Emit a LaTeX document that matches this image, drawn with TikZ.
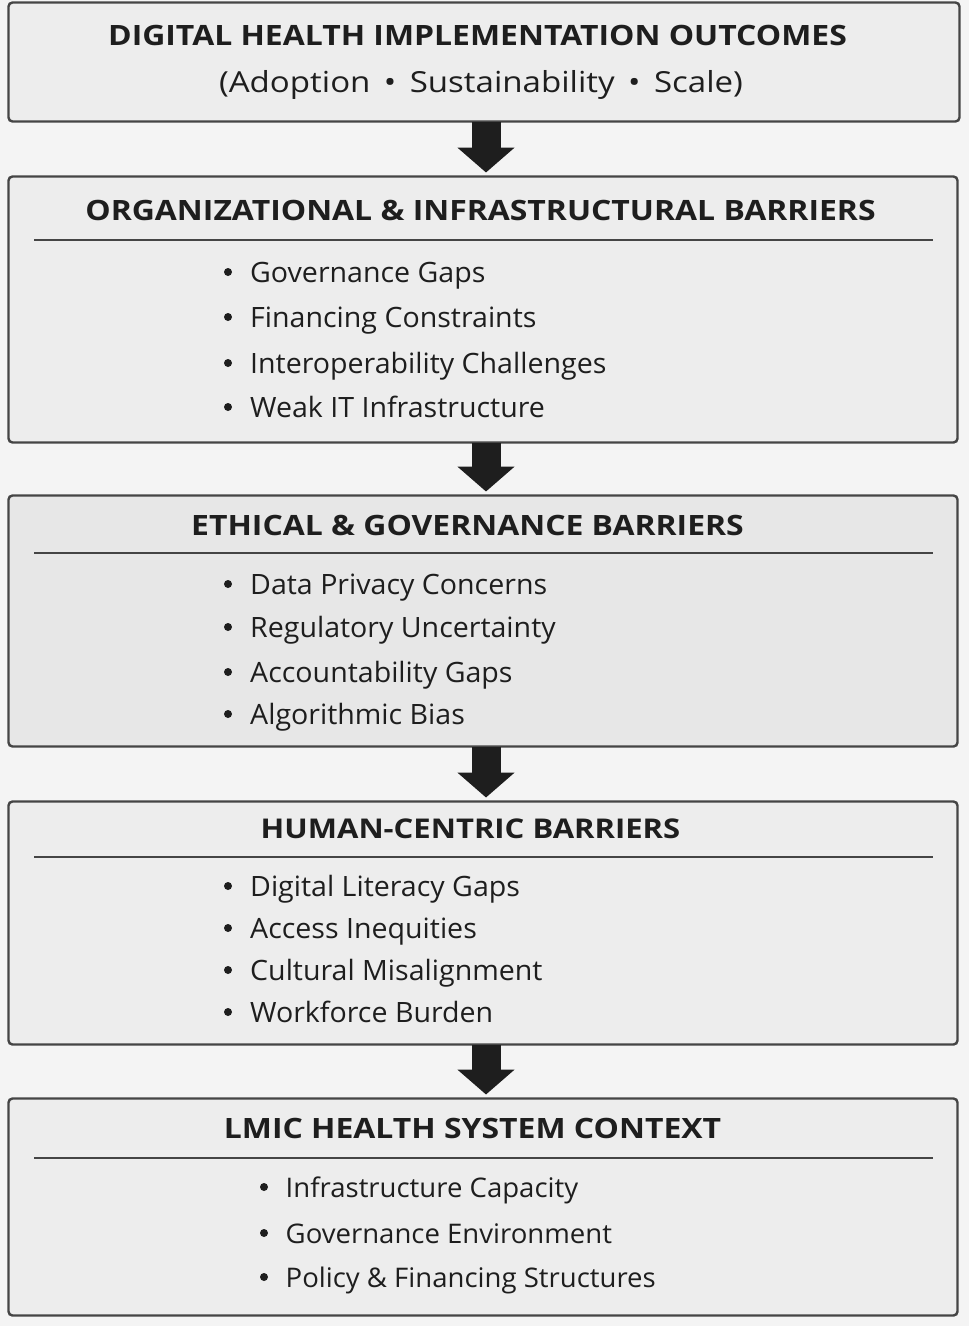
\documentclass[tikz,border=0pt]{standalone}
\usepackage{fontspec}
\setmainfont{Open Sans}
\newfontfamily\headfont{Open Sans}[FakeStretch=1.14]
\newfontfamily\entryfont{Open Sans}[FakeStretch=1.02]
\usetikzlibrary{arrows.meta}

\definecolor{pagebg}{HTML}{F4F4F4}
\definecolor{panelfill}{HTML}{EDEDED}
\definecolor{panelshade}{HTML}{E7E7E7}
\definecolor{panelline}{HTML}{454545}
\definecolor{ink}{HTML}{1E1E1E}

\tikzset{
  panel/.style={draw=panelline, line width=2.4pt, rounded corners=4pt, fill=panelfill, inner sep=0pt, outer sep=0pt},
  heading/.style={anchor=base, inner sep=0pt, text=ink, font=\headfont\fontsize{28}{32}\selectfont\bfseries},
  entry/.style={anchor=base west, inner sep=0pt, text=ink, font=\entryfont\fontsize{28}{32}\selectfont},
  dot/.style={circle, fill=ink, inner sep=0pt, minimum size=8pt},
  divider/.style={draw=panelline, line width=1.8pt},
  flow/.style={draw=ink, line width=29pt, -{Triangle[width=56pt,length=25pt]}}
}

\begin{document}
\begin{tikzpicture}[x=1pt,y=-1pt]
%page
\fill[pagebg] (0,0) rectangle (969,1326);
\useasboundingbox (0,0) rectangle (969,1326);

%panels
\node[panel, minimum width=951pt, minimum height=119pt] (outcomes) at (484,62) {};
\node[panel, minimum width=949pt, minimum height=266pt] (orgbar) at (483,309.5) {};
\node[panel, fill=panelshade, minimum width=949pt, minimum height=251pt] (ethbar) at (483,621) {};
\node[panel, minimum width=949pt, minimum height=243pt] (humbar) at (483,923) {};
\node[panel, minimum width=949pt, minimum height=217pt] (context) at (483,1207) {};

%arrows
\draw[flow] ([xshift=2pt]outcomes.south) -- ([xshift=3pt,yshift=4pt]orgbar.north);
\draw[flow] ([xshift=3pt]orgbar.south) -- ([xshift=3pt,yshift=4pt]ethbar.north);
\draw[flow] ([xshift=3pt]ethbar.south) -- ([xshift=3pt,yshift=4pt]humbar.north);
\draw[flow] ([xshift=3pt]humbar.south) -- ([xshift=3pt,yshift=4pt]context.north);

%headings
\node[heading] (outcomes-title) at (477.5,45) {DIGITAL HEALTH IMPLEMENTATION OUTCOMES};
\node[heading, font=\headfont\fontsize{29}{33}\selectfont] (outcomes-sub) at (481,92) {(Adoption \,\textbullet\, Sustainability \,\textbullet\, Scale)};
\node[heading] (orgbar-title) at (480.5,220) {ORGANIZATIONAL \& INFRASTRUCTURAL BARRIERS};
\node[heading] (ethbar-title) at (467.5,535) {ETHICAL \& GOVERNANCE BARRIERS};
\node[heading, font=\headfont\fontsize{27.2}{32}\selectfont\bfseries] (humbar-title) at (470.5,838) {HUMAN-CENTRIC BARRIERS};
\node[heading] (context-title) at (472.5,1138) {LMIC HEALTH SYSTEM CONTEXT};

%rules
\draw[divider] (34,240) -- (933,240);
\draw[divider] (34,553) -- (933,553);
\draw[divider] (34,857) -- (933,857);
\draw[divider] (34,1158) -- (933,1158);

%items
\foreach \y/\txt [count=\i] in {282/Governance Gaps, 327/Financing Constraints, 373/Interoperability Challenges, 417/Weak IT Infrastructure}{
  \node[dot] (orgbar-dot\i) at (228,\y-10) {};
  \node[entry] (orgbar-item\i) at (250,\y) {\txt};
}
\foreach \y/\txt [count=\i] in {594/Data Privacy Concerns, 637/Regulatory Uncertainty, 682/Accountability Gaps, 724/Algorithmic Bias}{
  \node[dot] (ethbar-dot\i) at (228,\y-10) {};
  \node[entry] (ethbar-item\i) at (250,\y) {\txt};
}
\foreach \y/\txt [count=\i] in {896/Digital Literacy Gaps, 938/Access Inequities, 980/Cultural Misalignment, 1022/Workforce Burden}{
  \node[dot] (humbar-dot\i) at (228,\y-10) {};
  \node[entry] (humbar-item\i) at (250,\y) {\txt};
}
\foreach \y/\txt [count=\i] in {1197/Infrastructure Capacity, 1243/Governance Environment, 1287/Policy \& Financing Structures}{
  \node[dot] (context-dot\i) at (264,\y-10) {};
  \node[entry, font=\entryfont\fontsize{27}{32}\selectfont] (context-item\i) at (285.5,\y) {\txt};
}
\end{tikzpicture}
\end{document}
